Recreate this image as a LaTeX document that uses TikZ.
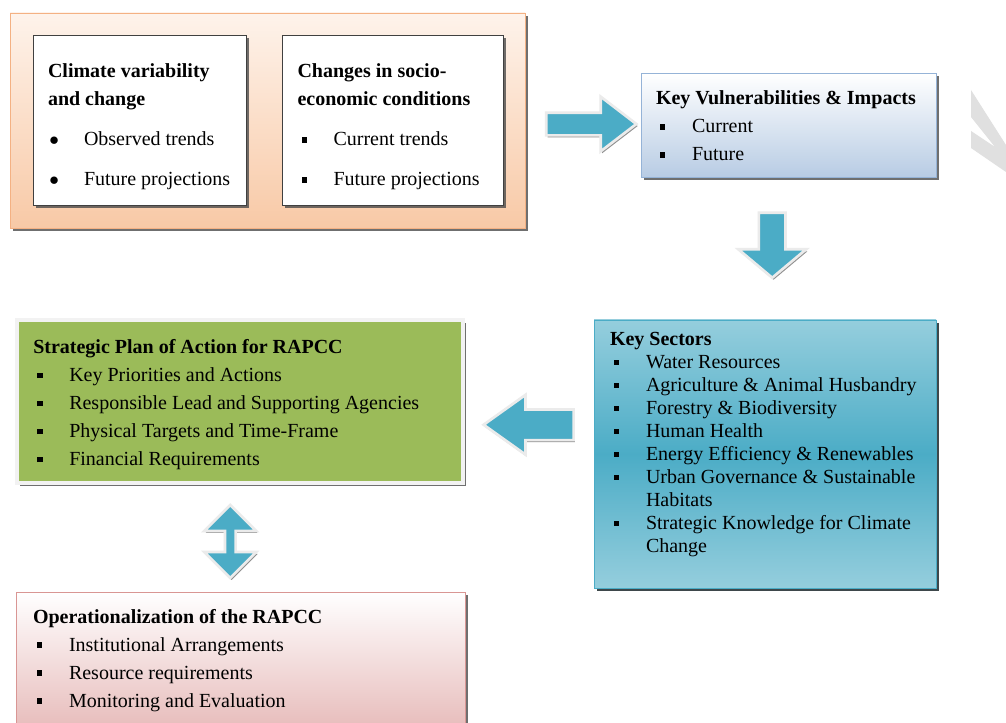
\documentclass[tikz,border=0pt]{standalone}
\usepackage{fontspec}
\setmainfont{Liberation Serif}
\usetikzlibrary{positioning,calc,shapes.arrows,shadows}
\definecolor{drvedge}{HTML}{F4B183}
\definecolor{drvtop}{HTML}{FEF3EB}
\definecolor{drvbot}{HTML}{F8C9A6}
\definecolor{vuledge}{HTML}{95B3D7}
\definecolor{vulbot}{HTML}{B8CCE4}
\definecolor{sectedge}{HTML}{4BACC6}
\definecolor{sectlight}{HTML}{95CEDD}
\definecolor{sectdark}{HTML}{4BACC6}
\definecolor{plangreen}{HTML}{9BBB59}
\definecolor{operedge}{HTML}{D99694}
\definecolor{operbot}{HTML}{E6B9B8}
\definecolor{arrowcyan}{HTML}{4BACC6}
\tikzset{ box/.style={draw,rectangle,inner sep=0pt,drop shadow={shadow xshift=2pt,shadow yshift=-2pt,fill=black!70,opacity=.8}},
  txt/.style={anchor=north west,inner sep=0pt,align=left,font=\fontsize{15}{21}\selectfont},
  barrow/.style={fill=arrowcyan,draw=black!8,line width=2pt,drop shadow={shadow xshift=1pt,shadow yshift=-1.5pt,fill=black!55,opacity=.8}} }
\newcommand{\sqb}{\makebox[27pt][l]{\hspace{3pt}\rule[2.5pt]{4pt}{4pt}}}
\newcommand{\rdb}{\makebox[27pt][l]{\hspace{1pt}$\bullet$}}

\begin{document}
\begin{tikzpicture}[x=0.75pt,y=-0.75pt]
   \clip (0,0) rectangle (1006,723);
   \fill[white] (0,0) rectangle (1006,723);
   % watermark fragment
   \fill[black!12] (971,90) -- (1006,145) -- (1006,172) -- (971,148) -- (971,131) -- (995,147) -- (971,117) -- cycle;
   \node[box,draw=drvedge,top color=drvtop,bottom color=drvbot,minimum width=386.25pt,minimum height=161.25pt] (drv) at (267.5,120.5) {};
   \node[box,draw=black!75,fill=white,drop shadow={opacity=0},minimum width=159.75pt,minimum height=127.5pt] (clim) at (139.5,120) {};
   \node[box,draw=black!75,fill=white,drop shadow={opacity=0},minimum width=165.75pt,minimum height=127.5pt,right=27pt of clim] (socio) {};
   \node[box,draw=vuledge,top color=white,bottom color=vulbot,minimum width=221.25pt,minimum height=78pt] (vul) at (788.5,125) {};
   \node[box,draw=sectedge,top color=sectlight,bottom color=sectlight,middle color=sectdark,minimum width=256.5pt,minimum height=201pt,drop shadow={shadow xshift=2pt,shadow yshift=-2pt,fill=black!80!sectdark}] (sect) at (765,454) {};
   \node[box,draw=black!5,line width=3pt,fill=plangreen,minimum width=334.5pt,minimum height=122pt] (plan) at (240,401.5) {};
   \node[box,draw=operedge,top color=white,bottom color=operbot,minimum width=336.75pt,minimum height=107.25pt] (oper) at (240.5,663.5) {};
   % block arrows
   \node[barrow,single arrow,minimum height=67.5pt,inner sep=7.5pt,single arrow head extend=12pt,single arrow tip angle=75] (a1) at ($(drv.east)!.56!(vul.west)+(-6,1)$) {};
   \node[barrow,single arrow,shape border rotate=270,minimum height=48.75pt,inner sep=9pt,single arrow head extend=15.4pt,single arrow tip angle=100] (a2) at ($(vul.south)!.48!(sect.north)+(-5,-6)$) {};
   \node[barrow,single arrow,shape border rotate=180,minimum height=67.5pt,inner sep=10.5pt,single arrow head extend=10.9pt,single arrow tip angle=71] (a3) at ($(plan.east)!.5!(sect.west)+(10,-3)$) {};
   \node[barrow,double arrow,shape border rotate=90,minimum height=54.75pt,inner sep=3pt,double arrow head extend=15.5pt,double arrow tip angle=90] (a4) at ($(plan.south)!.53!(oper.north)+(-10,0)$) {};
   % texts
   \node[txt] (clim-t) at ([shift={(15,29)}]clim.north west) {\bfseries Climate variability\\ \bfseries and change\\[9pt] \rdb Observed trends\\[9pt] \rdb Future projections};
   \node[txt] (socio-t) at ([shift={(15,29)}]socio.north west) {\bfseries Changes in socio-\\ \bfseries economic conditions\\[9pt] \sqb Current trends\\[9pt] \sqb Future projections};
   \node[txt] (vul-t) at ([shift={(15,18)}]vul.north west) {\bfseries Key Vulnerabilities \& Impacts\\ \sqb Current\\ \sqb Future};
   \node[txt,font=\fontsize{15}{17.25}\selectfont] (sect-t) at ([shift={(16,12)}]sect.north west) {\bfseries Key Sectors\\ \sqb Water Resources\\ \sqb Agriculture \& Animal Husbandry\\ \sqb Forestry \& Biodiversity\\ \sqb Human Health\\ \sqb Energy Efficiency \& Renewables\\ \sqb Urban Governance \& Sustainable\\ \hspace*{27pt}Habitats\\ \sqb Strategic Knowledge for Climate\\ \hspace*{27pt}Change};
   \node[txt] (plan-t) at ([shift={(18,21)}]plan.north west) {\bfseries Strategic Plan of Action for RAPCC\\ \sqb Key Priorities and Actions\\ \sqb Responsible Lead and Supporting Agencies\\ \sqb Physical Targets and Time-Frame\\ \sqb Financial Requirements};
   \node[txt] (oper-t) at ([shift={(17,17)}]oper.north west) {\bfseries Operationalization of the RAPCC\\ \sqb Institutional Arrangements\\ \sqb Resource requirements\\ \sqb Monitoring and Evaluation};
\end{tikzpicture}
\end{document}
